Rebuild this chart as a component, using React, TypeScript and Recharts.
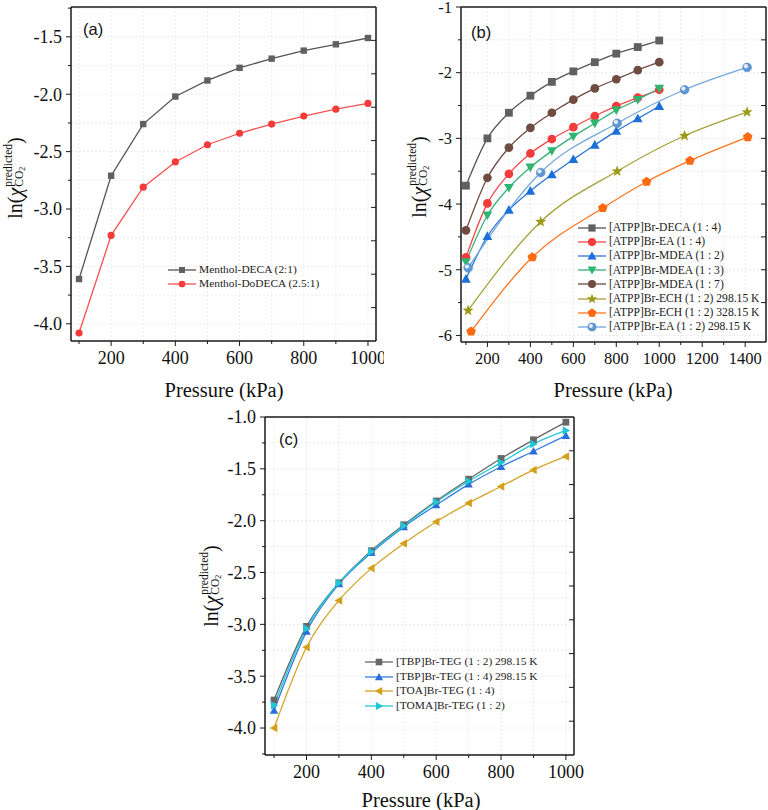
import React from 'react';
import { LineChart, Line, XAxis, YAxis, CartesianGrid } from 'recharts';

// ---- panel (a) ----
const pressureA = [100, 200, 300, 400, 500, 600, 700, 800, 900, 1000];
const mentholDeca = [-3.61, -2.71, -2.26, -2.02, -1.88, -1.77, -1.69, -1.62, -1.565, -1.51];
const mentholDodeca = [-4.08, -3.23, -2.81, -2.59, -2.44, -2.34, -2.26, -2.19, -2.13, -2.08];

// ---- panel (b) ----
const pressureB = [100, 200, 300, 400, 500, 600, 700, 800, 900, 1000];
const atppDeca14 = [-3.72, -3.0, -2.61, -2.35, -2.14, -1.98, -1.84, -1.71, -1.61, -1.51];
const atppEa14 = [-4.81, -3.99, -3.54, -3.23, -3.01, -2.83, -2.66, -2.51, -2.38, -2.26];
const atppMdea12 = [-5.14, -4.49, -4.09, -3.8, -3.55, -3.32, -3.1, -2.89, -2.7, -2.51];
const atppMdea13 = [-4.88, -4.17, -3.75, -3.44, -3.19, -2.97, -2.77, -2.57, -2.41, -2.24];
const atppMdea17 = [-4.4, -3.6, -3.14, -2.84, -2.61, -2.41, -2.24, -2.1, -1.96, -1.84];
const pressureEch298 = [110, 448, 804, 1118, 1409];
const atppEch298 = [-5.62, -4.27, -3.5, -2.96, -2.6];
const pressureEch328 = [124, 409, 737, 941, 1143, 1412];
const atppEch328 = [-5.94, -4.81, -4.06, -3.66, -3.34, -2.98];
const pressureEa12 = [110, 448, 804, 1118, 1409];
const atppEa12 = [-4.97, -3.52, -2.77, -2.26, -1.92];

// ---- panel (c) ----
const pressureC = [100, 200, 300, 400, 500, 600, 700, 800, 900, 1000];
const tbpTeg12 = [-3.73, -3.02, -2.6, -2.29, -2.04, -1.81, -1.6, -1.4, -1.22, -1.05];
const tbpTeg14 = [-3.83, -3.07, -2.61, -2.31, -2.06, -1.85, -1.65, -1.48, -1.33, -1.18];
const toaTeg14 = [-4.0, -3.22, -2.77, -2.46, -2.22, -2.01, -1.83, -1.67, -1.51, -1.38];
const tomaTeg12 = [-3.78, -3.04, -2.6, -2.3, -2.05, -1.82, -1.62, -1.44, -1.26, -1.13];

// ---- ticks ----
const ticksXA = [100, 200, 300, 400, 500, 600, 700, 800, 900, 1000];
const ticksYA = [-4.0, -3.75, -3.5, -3.25, -3.0, -2.75, -2.5, -2.25, -2.0, -1.75, -1.5, -1.25];
const ticksXB = [100, 200, 300, 400, 500, 600, 700, 800, 900, 1000, 1100, 1200, 1300, 1400];
const ticksYB = [-6, -5.5, -5, -4.5, -4, -3.5, -3, -2.5, -2, -1.5, -1];
const ticksYBRight = [-5.5, -5, -4.5, -4, -3.5, -3, -2.5, -2, -1.5];
const ticksXC = [100, 200, 300, 400, 500, 600, 700, 800, 900, 1000];
const ticksYC = [-4.25, -4.0, -3.75, -3.5, -3.25, -3.0, -2.75, -2.5, -2.25, -2.0, -1.75, -1.5, -1.25, -1.0];
const rightTicksAC = [1, 2, 3, 4, 5, 6, 7, 8, 9];

const SERIF = '"Liberation Serif", "Times New Roman", "DejaVu Serif", serif';
const SANS = '"Liberation Sans", Arial, sans-serif';
const AXIS = '#1a1a1a';

const pts = (xs: number[], ys: number[]) => xs.map((p, i) => ({ p, y: ys[i] }));

type Shape = 'square' | 'circle' | 'up' | 'down' | 'left' | 'right' | 'star' | 'pentagon' | 'sphere';

const polyPoints = (cx: number, cy: number, n: number, r: number, inner?: number) => {
  const out: string[] = [];
  const count = inner ? n * 2 : n;
  for (let i = 0; i < count; i++) {
    const rr = inner && i % 2 === 1 ? inner : r;
    const a = -Math.PI / 2 + (i * Math.PI * 2) / count;
    out.push(`${cx + rr * Math.cos(a)},${cy + rr * Math.sin(a)}`);
  }
  return out.join(' ');
};

const Mark = ({ shape, cx, cy, color, s }: { shape: Shape; cx: number; cy: number; color: string; s: number }) => {
  if (cx == null || cy == null) return null;
  switch (shape) {
    case 'square':
      return <rect x={cx - s} y={cy - s} width={2 * s} height={2 * s} fill={color} />;
    case 'circle':
      return <circle cx={cx} cy={cy} r={s * 1.12} fill={color} />;
    case 'up':
      return <polygon points={`${cx},${cy - s * 1.25} ${cx + s * 1.25},${cy + s * 0.95} ${cx - s * 1.25},${cy + s * 0.95}`} fill={color} />;
    case 'down':
      return <polygon points={`${cx},${cy + s * 1.25} ${cx + s * 1.25},${cy - s * 0.95} ${cx - s * 1.25},${cy - s * 0.95}`} fill={color} />;
    case 'left':
      return <polygon points={`${cx - s * 1.25},${cy} ${cx + s * 0.95},${cy - s * 1.25} ${cx + s * 0.95},${cy + s * 1.25}`} fill={color} />;
    case 'right':
      return <polygon points={`${cx + s * 1.25},${cy} ${cx - s * 0.95},${cy - s * 1.25} ${cx - s * 0.95},${cy + s * 1.25}`} fill={color} />;
    case 'star':
      return <polygon points={polyPoints(cx, cy, 5, s * 1.5, s * 0.62)} fill={color} />;
    case 'pentagon':
      return <polygon points={polyPoints(cx, cy, 5, s * 1.3)} fill={color} />;
    case 'sphere':
      return (
        <g>
          <circle cx={cx} cy={cy} r={s * 1.12} fill="#5f97d2" stroke="#4d87c7" strokeWidth={0.6} />
          <circle cx={cx - s * 0.3} cy={cy - s * 0.3} r={s * 0.55} fill="#e4eef9" />
        </g>
      );
    default:
      return null;
  }
};

type Series = { name: string; xs: number[]; ys: number[]; color: string; line: string; shape: Shape };

const seriesA: Series[] = [
  { name: 'Menthol-DECA (2:1)', xs: pressureA, ys: mentholDeca, color: '#606060', line: '#555555', shape: 'square' },
  { name: 'Menthol-DoDECA (2.5:1)', xs: pressureA, ys: mentholDodeca, color: '#f43b3b', line: '#f55050', shape: 'circle' },
];

const seriesB: Series[] = [
  { name: '[ATPP]Br-DECA (1 : 4)', xs: pressureB, ys: atppDeca14, color: '#606060', line: '#555555', shape: 'square' },
  { name: '[ATPP]Br-EA (1 : 4)', xs: pressureB, ys: atppEa14, color: '#f23c3c', line: '#f24a4a', shape: 'circle' },
  { name: '[ATPP]Br-MDEA (1 : 2)', xs: pressureB, ys: atppMdea12, color: '#1b6fd9', line: '#2a74d8', shape: 'up' },
  { name: '[ATPP]Br-MDEA (1 : 3)', xs: pressureB, ys: atppMdea13, color: '#2fb56f', line: '#38b07a', shape: 'down' },
  { name: '[ATPP]Br-MDEA (1 : 7)', xs: pressureB, ys: atppMdea17, color: '#6f4b42', line: '#6f4b42', shape: 'circle' },
  { name: '[ATPP]Br-ECH (1 : 2) 298.15 K', xs: pressureEch298, ys: atppEch298, color: '#9c9a17', line: '#a3a23a', shape: 'star' },
  { name: '[ATPP]Br-ECH (1 : 2) 328.15 K', xs: pressureEch328, ys: atppEch328, color: '#ff6912', line: '#ff7420', shape: 'pentagon' },
  { name: '[ATPP]Br-EA (1 : 2) 298.15 K', xs: pressureEa12, ys: atppEa12, color: '#5f97d2', line: '#72a8dc', shape: 'sphere' },
];

const seriesC: Series[] = [
  { name: '[TBP]Br-TEG (1 : 2) 298.15 K', xs: pressureC, ys: tbpTeg12, color: '#676767', line: '#666666', shape: 'square' },
  { name: '[TBP]Br-TEG (1 : 4) 298.15 K', xs: pressureC, ys: tbpTeg14, color: '#2a6fd9', line: '#3a7de0', shape: 'up' },
  { name: '[TOA]Br-TEG (1 : 4)', xs: pressureC, ys: toaTeg14, color: '#d4a01a', line: '#d4a52a', shape: 'left' },
  { name: '[TOMA]Br-TEG (1 : 2)', xs: pressureC, ys: tomaTeg12, color: '#1ec6d6', line: '#22c8d6', shape: 'right' },
];

type Side = 'bottom' | 'left' | 'top' | 'right';

const makeTick = (side: Side, isMajor: (v: number) => boolean, fmt: ((v: number) => string) | null, fontSize: number, labelGap: number) =>
  (props: any) => {
    const { x, y, payload, index } = props;
    const v = payload.value as number;
    const major = isMajor(v);
    const len = major ? 5 : 3;
    const label = fmt && major ? fmt(v) : '';
    let line;
    let text = null;
    if (side === 'bottom') {
      line = <line x1={x} y1={y} x2={x} y2={y + len} stroke={AXIS} strokeWidth={1} />;
      if (label) text = <text x={x} y={y + labelGap} dy="0.35em" textAnchor="middle" fontSize={fontSize} fontFamily={SERIF} fill="#111">{label}</text>;
    } else if (side === 'left') {
      line = <line x1={x} y1={y} x2={x - len} y2={y} stroke={AXIS} strokeWidth={1} />;
      if (label) text = <text x={x - labelGap} y={y} dy="0.35em" textAnchor="end" fontSize={fontSize} fontFamily={SERIF} fill="#111">{label}</text>;
    } else if (side === 'top') {
      line = <line x1={x} y1={y} x2={x} y2={y + len} stroke={AXIS} strokeWidth={1} />;
    } else {
      line = <line x1={x} y1={y} x2={x - len} y2={y} stroke={AXIS} strokeWidth={1} />;
    }
    return (
      <g key={`t-${side}-${index}`}>
        {line}
        {text}
      </g>
    );
  };

const isMult = (step: number) => (v: number) => Math.abs(v / step - Math.round(v / step)) < 1e-6;
const always = () => true;

const YTitle = ({ cx, cy }: { cx: number; cy: number }) => (
  <div
    style={{
      position: 'absolute',
      left: cx,
      top: cy,
      transform: 'translate(-50%, -50%) rotate(-90deg)',
      whiteSpace: 'nowrap',
      fontFamily: SERIF,
      fontSize: 20,
      color: '#111',
      display: 'flex',
      alignItems: 'center',
      lineHeight: 1,
    }}
  >
    <span>ln(</span>
    <span style={{ fontStyle: 'italic' }}>χ</span>
    <span style={{ display: 'inline-flex', flexDirection: 'column', fontSize: 11.5, lineHeight: '11px', marginLeft: 1 }}>
      <span>predicted</span>
      <span>
        CO<span style={{ fontSize: 8, position: 'relative', top: 2 }}>2</span>
      </span>
    </span>
    <span>)</span>
  </div>
);

const XTitle = ({ cx, cy }: { cx: number; cy: number }) => (
  <div style={{ position: 'absolute', left: cx, top: cy, transform: 'translate(-50%, -50%)', whiteSpace: 'nowrap', fontFamily: SERIF, fontSize: 20.5, color: '#111', lineHeight: 1 }}>
    Pressure (kPa)
  </div>
);

const PanelTag = ({ x, cy, text }: { x: number; cy: number; text: string }) => (
  <div style={{ position: 'absolute', left: x, top: cy, transform: 'translateY(-50%)', fontFamily: SANS, fontSize: 16.5, color: '#111', lineHeight: 1 }}>{text}</div>
);

const LegendBox = ({ items, x, y, step, fontSize, s }: { items: Series[]; x: number; y: number; step: number; fontSize: number; s: number }) => (
  <div style={{ position: 'absolute', left: x, top: y }}>
    {items.map((it, i) => (
      <div key={it.name} style={{ position: 'absolute', left: 0, top: i * step, transform: 'translateY(-50%)', display: 'flex', alignItems: 'center', whiteSpace: 'nowrap' }}>
        <svg width={28} height={12} style={{ display: 'block' }}>
          <line x1={0} y1={6} x2={28} y2={6} stroke={it.line} strokeWidth={1.3} />
          <Mark shape={it.shape} cx={14} cy={6} color={it.color} s={s} />
        </svg>
        <span style={{ fontFamily: SERIF, fontSize, color: '#222', marginLeft: 3, lineHeight: 1 }}>{it.name}</span>
      </div>
    ))}
  </div>
);

type PanelProps = {
  width: number;
  height: number;
  margin: { top: number; right: number; bottom: number; left: number };
  yWidth: number;
  xHeight: number;
  xDomain: [number, number];
  yDomain: [number, number];
  xTicks: number[];
  yTicks: number[];
  xMajor: (v: number) => boolean;
  yMajor: (v: number) => boolean;
  yFmt: (v: number) => string;
  rightTicks: number[];
  rightDomain: [number, number] | null;
  series: Series[];
  curve: 'linear' | 'monotone';
  markSize: number;
  fontSize: number;
  xGap: number;
};

const Panel = (p: PanelProps) => (
  <LineChart width={p.width} height={p.height} margin={p.margin}>
    <CartesianGrid stroke="#e6e6e6" strokeDasharray="2 2" strokeWidth={0.8} />
    <XAxis
      xAxisId={0}
      dataKey="p"
      type="number"
      domain={p.xDomain}
      allowDataOverflow
      ticks={p.xTicks}
      interval={0}
      height={p.xHeight}
      tickSize={0}
      tickMargin={0}
      tickLine={false}
      axisLine={{ stroke: AXIS, strokeWidth: 1.5 }}
      tick={makeTick('bottom', p.xMajor, (v) => String(v), p.fontSize, p.xGap)}
    />
    <XAxis
      xAxisId="top"
      orientation="top"
      type="number"
      domain={p.xDomain}
      allowDataOverflow
      ticks={p.xTicks}
      interval={0}
      height={1}
      tickSize={0}
      tickMargin={0}
      tickLine={false}
      axisLine={{ stroke: AXIS, strokeWidth: 1.5 }}
      tick={makeTick('top', p.xMajor, null, p.fontSize, 0)}
    />
    <YAxis
      yAxisId={0}
      type="number"
      domain={p.yDomain}
      allowDataOverflow
      ticks={p.yTicks}
      interval={0}
      width={p.yWidth}
      tickSize={0}
      tickMargin={0}
      tickLine={false}
      axisLine={{ stroke: AXIS, strokeWidth: 1.5 }}
      tick={makeTick('left', p.yMajor, p.yFmt, p.fontSize, 9)}
    />
    <YAxis
      yAxisId="right"
      orientation="right"
      type="number"
      domain={p.rightDomain ?? p.yDomain}
      allowDataOverflow
      ticks={p.rightTicks}
      interval={0}
      width={1}
      tickSize={0}
      tickMargin={0}
      tickLine={false}
      axisLine={{ stroke: AXIS, strokeWidth: 1.5 }}
      tick={makeTick('right', always, null, p.fontSize, 0)}
    />
    {p.series.map((s) => (
      <Line
        key={s.name}
        xAxisId={0}
        yAxisId={0}
        data={pts(s.xs, s.ys)}
        dataKey="y"
        name={s.name}
        type={p.curve}
        stroke={s.line}
        strokeWidth={1.3}
        isAnimationActive={false}
        activeDot={false}
        dot={(d: any) => <Mark key={`${s.name}-${d.index}`} shape={s.shape} cx={d.cx} cy={d.cy} color={s.color} s={p.markSize} />}
      />
    ))}
  </LineChart>
);

export default function App() {
  return (
    <div style={{ position: 'absolute', left: 0, top: 0, width: 768, height: 810, background: '#fff', overflow: 'hidden' }}>
      {/* (a) */}
      <div style={{ position: 'absolute', left: 0, top: 0 }}>
        <Panel
          width={384}
          height={390}
          margin={{ top: 6, right: 7, bottom: 0, left: 0 }}
          yWidth={71}
          xHeight={49}
          xDomain={[75, 1025]}
          yDomain={[-4.15, -1.24]}
          xTicks={ticksXA}
          yTicks={ticksYA}
          xMajor={isMult(200)}
          yMajor={isMult(0.5)}
          yFmt={(v) => v.toFixed(1)}
          rightTicks={rightTicksAC}
          rightDomain={[0, 10]}
          series={seriesA}
          curve="linear"
          markSize={3.2}
          fontSize={18}
          xGap={17}
        />
      </div>
      <YTitle cx={14} cy={178} />
      <XTitle cx={224} cy={390} />
      <PanelTag x={83} cy={29} text="(a)" />
      <LegendBox items={seriesA} x={168} y={270} step={14} fontSize={11.4} s={3} />

      {/* (b) */}
      <div style={{ position: 'absolute', left: 384, top: 0 }}>
        <Panel
          width={384}
          height={390}
          margin={{ top: 6, right: 1, bottom: 0, left: 0 }}
          yWidth={77}
          xHeight={48}
          xDomain={[77, 1497]}
          yDomain={[-6.1, -1]}
          xTicks={ticksXB}
          yTicks={ticksYB}
          xMajor={isMult(200)}
          yMajor={isMult(1)}
          yFmt={(v) => String(v)}
          rightTicks={ticksYBRight}
          rightDomain={null}
          series={seriesB}
          curve="monotone"
          markSize={3.9}
          fontSize={16.5}
          xGap={16}
        />
      </div>
      <YTitle cx={418} cy={177} />
      <XTitle cx={613} cy={390} />
      <PanelTag x={471} cy={32} text="(b)" />
      <LegendBox items={seriesB} x={578} y={228} step={14.1} fontSize={11.6} s={3.6} />

      {/* (c) */}
      <div style={{ position: 'absolute', left: 190, top: 400 }}>
        <Panel
          width={394}
          height={410}
          margin={{ top: 16, right: 9, bottom: 0, left: 0 }}
          yWidth={75}
          xHeight={55}
          xDomain={[72, 1025]}
          yDomain={[-4.26, -1.0]}
          xTicks={ticksXC}
          yTicks={ticksYC}
          xMajor={isMult(200)}
          yMajor={isMult(0.5)}
          yFmt={(v) => v.toFixed(1)}
          rightTicks={rightTicksAC}
          rightDomain={[0, 10]}
          series={seriesC}
          curve="monotone"
          markSize={3.4}
          fontSize={18}
          xGap={16.5}
        />
      </div>
      <YTitle cx={210} cy={586} />
      <XTitle cx={421} cy={800} />
      <PanelTag x={279} cy={439} text="(c)" />
      <LegendBox items={seriesC} x={365} y={662} step={14.5} fontSize={11.4} s={3.3} />
    </div>
  );
}
